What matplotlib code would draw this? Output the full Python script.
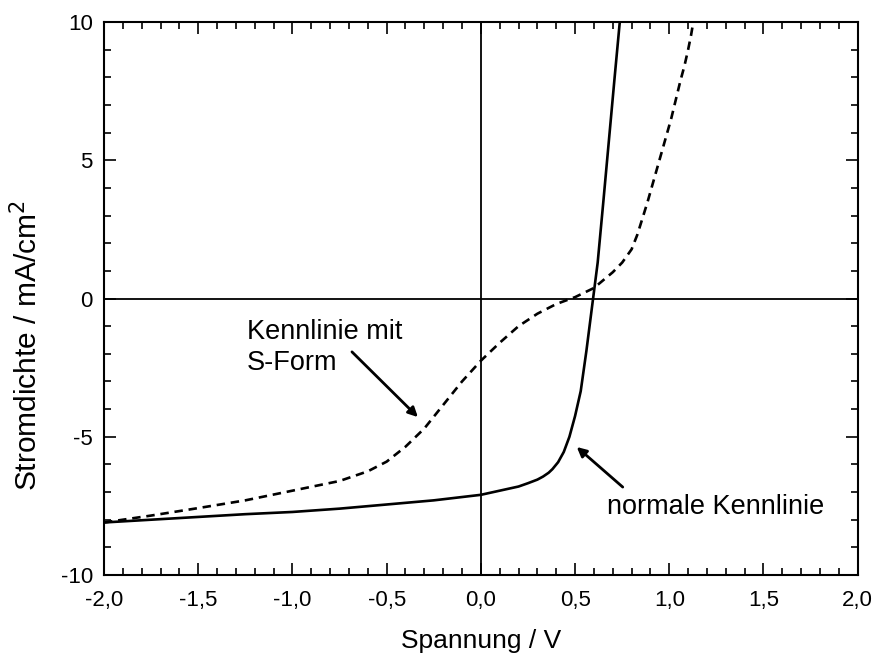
import matplotlib
matplotlib.use('Agg')
import matplotlib.pyplot as plt
from matplotlib.ticker import MultipleLocator

plt.rcParams['font.family'] = ['Liberation Sans', 'DejaVu Sans']

# normale Kennlinie (solid)
v_normal = [-2.0, -1.75, -1.5, -1.25, -1.0, -0.75, -0.5, -0.25, 0.0, 0.1, 0.2, 0.25,
            0.3, 0.33, 0.36, 0.38, 0.41, 0.44, 0.47, 0.5, 0.53, 0.56, 0.59, 0.62,
            0.65, 0.68, 0.71, 0.74]
j_normal = [-8.1, -8.0, -7.9, -7.8, -7.72, -7.6, -7.45, -7.3, -7.1, -6.95, -6.8, -6.68,
            -6.55, -6.44, -6.3, -6.17, -5.92, -5.55, -5.0, -4.25, -3.35, -1.9, -0.3, 1.3,
            3.5, 5.75, 8.0, 10.2]

# Kennlinie mit S-Form (dashed)
v_sform = [-2.0, -1.75, -1.5, -1.25, -1.0, -0.75, -0.6, -0.5, -0.4, -0.3, -0.2, -0.1,
           0.0, 0.1, 0.2, 0.3, 0.4, 0.5, 0.6, 0.7, 0.75, 0.8, 0.83, 0.86, 0.885, 0.91,
           0.935, 0.96, 0.985, 1.01, 1.035, 1.06, 1.08, 1.1, 1.115, 1.13]
j_sform = [-8.1, -7.85, -7.58, -7.3, -6.95, -6.6, -6.25, -5.9, -5.36, -4.7, -3.85, -3.0,
           -2.25, -1.6, -1.0, -0.55, -0.2, 0.05, 0.38, 0.95, 1.3, 1.78, 2.3, 2.95, 3.5,
           4.1, 4.7, 5.3, 5.9, 6.5, 7.2, 7.9, 8.4, 9.0, 9.5, 10.1]

x_ticks = [-2.0, -1.5, -1.0, -0.5, 0.0, 0.5, 1.0, 1.5, 2.0]
x_ticklabels = ['-2,0', '-1,5', '-1,0', '-0,5', '0,0', '0,5', '1,0', '1,5', '2,0']
y_ticks = [-10, -5, 0, 5, 10]
y_ticklabels = ['-10', '-5', '0', '5', '10']

fig = plt.figure(figsize=(8.77, 6.57), dpi=100)
ax = fig.add_axes([0.1186, 0.1248, 0.8594, 0.8417])

ax.axhline(0, color='black', lw=1.3, zorder=1)
ax.axvline(0, color='black', lw=1.3, zorder=1)

ax.plot(v_normal, j_normal, color='black', lw=1.9, zorder=3)
ax.plot(v_sform, j_sform, color='black', lw=1.9, dashes=(3.2, 2.2), zorder=3)

ax.set_xlim(-2, 2)
ax.set_ylim(-10, 10)
ax.set_xticks(x_ticks)
ax.set_xticklabels(x_ticklabels)
ax.set_yticks(y_ticks)
ax.set_yticklabels(y_ticklabels)
ax.xaxis.set_minor_locator(MultipleLocator(0.1))
ax.yaxis.set_minor_locator(MultipleLocator(1))
ax.tick_params(which='both', direction='in', top=True, right=True, width=1.2,
               labelsize=16)
ax.tick_params(which='major', length=8.5)
ax.tick_params(which='minor', length=5)
ax.tick_params(axis='x', pad=11)
ax.tick_params(axis='y', pad=8)
for s in ax.spines.values():
    s.set_linewidth(1.5)

ax.set_xlabel('Spannung / V', fontsize=19)
ax.set_ylabel('Stromdichte / mA/cm$^2$', fontsize=21.5)
ax.xaxis.set_label_coords(0.50, -0.097)
ax.yaxis.set_label_coords(-0.081, 0.414)

arrow = dict(arrowstyle='-|>', color='black', lw=2, mutation_scale=14,
             shrinkA=0, shrinkB=0)
ax.text(-1.24, -1.77, 'Kennlinie mit\nS-Form', fontsize=19.5, ha='left',
        va='center', linespacing=1.22)
ax.annotate('', xy=(-0.334, -4.29), xytext=(-0.684, -1.93), arrowprops=arrow)
ax.text(0.668, -7.54, 'normale Kennlinie', fontsize=19.5, ha='left', va='center')
ax.annotate('', xy=(0.509, -5.37), xytext=(0.753, -6.82), arrowprops=arrow)

fig.savefig('out.png', dpi=100)
